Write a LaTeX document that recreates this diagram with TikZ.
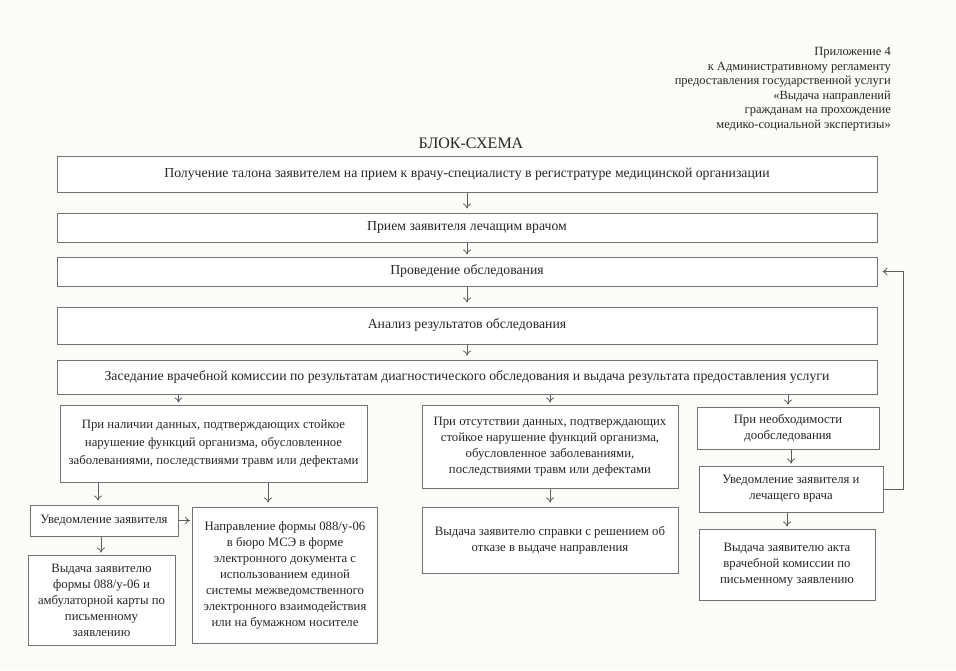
\documentclass[tikz,border=0pt]{standalone}
\usepackage{fontspec}
\setmainfont{Liberation Serif}
\usetikzlibrary{arrows.meta,positioning,calc}
\definecolor{boxgrey}{HTML}{727272}
\definecolor{arrgrey}{HTML}{5E5E5E}
\definecolor{txtgrey}{HTML}{262626}
\definecolor{paper}{HTML}{FCFBF8}

\begin{document}
\begin{tikzpicture}[
  x=1pt, y=-1pt,
  font=\fontsize{12.75}{16}\selectfont,
  stage/.style={draw=boxgrey, line width=1pt, fill=white, align=center,
                text=txtgrey, inner sep=2pt},
  wide/.style={stage, minimum width=820, font=\fontsize{13.75}{17}\selectfont},
  arr/.style={-{To[length=5pt,width=8pt]}, arrgrey, line width=0.8pt,
              shorten <=0.5pt, shorten >=2pt},
  hdr/.style={align=right, text=txtgrey, inner sep=0pt,
              font=\fontsize{12.5}{14.6}\selectfont},
]
\fill[paper] (0,0) rectangle (956,670);
\useasboundingbox (0,0) rectangle (956,670);

% ---------------- heading -------------------------------------------
\node[hdr, anchor=north east] (pril) at (891,47)
  {Приложение 4\\
   к Административному регламенту\\
   предоставления государственной услуги\\
   «Выдача направлений\\
   гражданам на прохождение\\
   медико-социальной экспертизы»};
\node[text=txtgrey, font=\fontsize{16}{18}\selectfont] (title) at (471,143) {БЛОК-СХЕМА};

% ---------------- main chain ----------------------------------------
\node[wide, minimum height=36] (get) at (467,174)
  {Получение талона заявителем на прием к врачу-специалисту в регистратуре медицинской организации};
\node[wide, minimum height=29] (priem) at (467,227.5)
  {Прием заявителя лечащим врачом};
\node[wide, minimum height=29] (obsl) at (467,271.5)
  {Проведение обследования};
\node[wide, minimum height=37] (analiz) at (467,325.5)
  {Анализ результатов обследования};
\node[wide, minimum height=34] (zased) at (467,377)
  {Заседание врачебной комиссии по результатам диагностического обследования и выдача результата предоставления услуги};

\draw[arr, shorten >=4pt] (get)    -- (priem);
\draw[arr] (priem)  -- (obsl);
\draw[arr, shorten >=4pt] (obsl)   -- (analiz);
\draw[arr, shorten >=4pt] (analiz) -- (zased);

% ---------------- three outcomes ------------------------------------
\node[stage, minimum width=307, minimum height=77] (nal) at (213.5,443.5)
  {При наличии данных, подтверждающих стойкое\\[2pt]
   нарушение функций организма, обусловленное\\[2pt]
   заболеваниями, последствиями травм или дефектами};
\node[stage, minimum width=256, minimum height=83] (ots) at (550,446.5)
  {При отсутствии данных, подтверждающих\\
   стойкое нарушение функций организма,\\
   обусловленное заболеваниями,\\
   последствиями травм или дефектами};
\node[stage, minimum width=182, minimum height=42] (dob) at (788,428)
  {При необходимости\\дообследования};

\draw[arr] ([xshift=-35pt]nal.north |- zased.south) -- ([xshift=-35pt]nal.north);
\draw[arr] (zased.south -| ots.north) -- (ots.north);
\draw[arr] (zased.south -| dob.north) -- (dob.north);

% ---------------- left branch ---------------------------------------
\node[stage, minimum width=148, minimum height=31] (uved) at (104,520.5)
  {Уведомление заявителя};
\node[stage, minimum width=185, minimum height=136] (napr) at (285,575)
  {Направление формы 088/у-06\\
   в бюро МСЭ в форме\\
   электронного документа с\\
   использованием единой\\
   системы межведомственного\\
   электронного взаимодействия\\
   или на бумажном носителе};
\node[stage, minimum width=147, minimum height=90] (vyd) at (101.5,600)
  {Выдача заявителю\\
   формы 088/у-06 и\\
   амбулаторной карты по\\
   письменному\\
   заявлению};

\draw[arr, shorten >=4pt] ([xshift=-6pt]uved.north |- nal.south) -- ([xshift=-6pt]uved.north);
\draw[arr, shorten >=4pt] ([xshift=-17pt]napr.north |- nal.south) -- ([xshift=-17pt]napr.north);
\draw[arr] (uved.east) -- (napr.west |- uved.east);
\draw[arr] ([xshift=-3pt]uved.south) -- ([xshift=-3pt]vyd.north -| uved.south);

% ---------------- middle branch -------------------------------------
\node[stage, minimum width=256, minimum height=66] (spr) at (550,540)
  {Выдача заявителю справки с решением об\\
   отказе в выдаче направления};
\draw[arr, shorten >=4pt] (ots) -- (spr);

% ---------------- right branch --------------------------------------
\node[stage, minimum width=184, minimum height=46] (uvdv) at (791,489)
  {Уведомление заявителя и\\лечащего врача};
\node[stage, minimum width=176, minimum height=71] (akt) at (787,564.5)
  {Выдача заявителю акта\\
   врачебной комиссии по\\
   письменному заявлению};

\draw[arr] (dob.south -| uvdv.north) -- (uvdv.north);
\draw[arr] (uvdv.south -| akt.north) -- (akt.north);

% back to the examination when more tests are needed
\draw[arr, shorten >=5pt] (uvdv.east) -- ++(20,0) |- (obsl.east);

\end{tikzpicture}
\end{document}
